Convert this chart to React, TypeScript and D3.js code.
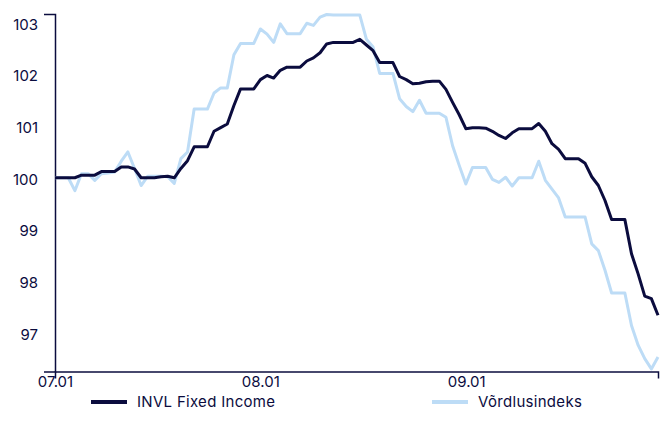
import React from "react";
import * as d3 from "d3";

// series values, one point roughly every 12 days
const invl = [
  100.0, 100.0, 100.0, 100.0, 100.05, 100.05, 100.05, 100.12, 100.12, 100.12,
  100.21, 100.21, 100.17, 100.0, 100.0, 100.0, 100.02, 100.03, 100.0, 100.18,
  100.33, 100.6, 100.6, 100.6, 100.9, 100.97, 101.04, 101.4, 101.72, 101.72,
  101.72, 101.9, 101.98, 101.93, 102.08, 102.14, 102.14, 102.14, 102.26, 102.32,
  102.42, 102.59, 102.62, 102.62, 102.62, 102.62, 102.68, 102.57, 102.46, 102.23,
  102.23, 102.23, 101.96, 101.9, 101.82, 101.83, 101.86, 101.87, 101.87, 101.71,
  101.46, 101.22, 100.95, 100.97, 100.97, 100.96, 100.9, 100.82, 100.76, 100.87,
  100.95, 100.95, 100.95, 101.05, 100.9, 100.66, 100.55, 100.37, 100.37, 100.37,
  100.28, 100.02, 99.85, 99.56, 99.19, 99.19, 99.19, 98.53, 98.14, 97.71,
  97.66, 97.34,
];

const benchmark = [
  100.0, 100.0, 100.0, 99.75, 100.08, 100.08, 99.95, 100.08, 100.09, 100.11,
  100.32, 100.5, 100.18, 99.85, 100.03, 100.03, 100.03, 100.02, 99.89, 100.37,
  100.5, 101.33, 101.33, 101.33, 101.64, 101.74, 101.74, 102.38, 102.6, 102.6,
  102.6, 102.88, 102.78, 102.62, 102.98, 102.79, 102.79, 102.79, 102.99, 102.95,
  103.11, 103.16, 103.15, 103.15, 103.15, 103.15, 103.15, 102.68, 102.53, 102.02,
  102.02, 102.02, 101.53, 101.38, 101.28, 101.5, 101.25, 101.25, 101.25, 101.17,
  100.62, 100.24, 99.88, 100.2, 100.2, 100.2, 99.97, 99.91, 100.01, 99.84,
  100.0, 100.0, 100.0, 100.32, 99.95, 99.78, 99.61, 99.24, 99.24, 99.24,
  99.24, 98.72, 98.59, 98.21, 97.77, 97.77, 97.77, 97.14, 96.76, 96.5,
  96.3, 96.53,
];

const startDate = new Date(2007, 0, 1);
const endDate = new Date(2009, 11, 8);
const dates = invl.map(
  (_, i) => new Date(+startDate + (i * (+endDate - +startDate)) / (invl.length - 1))
);

const xTicks = [new Date(2007, 0, 1), new Date(2008, 0, 1), new Date(2009, 0, 1)];
const yTicks = [97, 98, 99, 100, 101, 102, 103];
const legendLabels = ["INVL Fixed Income", "Võrdlusindeks"];

const navy = "#0b0c3e";
const lightBlue = "#bddcf6";
const font = "Inter, 'Noto Sans', sans-serif";

export default function App() {
  const ref = React.useRef<SVGSVGElement>(null);
  const width = 660;
  const height = 433;

  React.useEffect(() => {
    const marginLeft = 55;
    const marginRight = 2;
    const marginTop = 14;
    const axisY = 371.5;

    const x = d3
      .scaleTime()
      .domain([startDate, endDate])
      .range([marginLeft, width - marginRight]);
    const y = d3.scaleLinear().domain([96.25, 103.17]).range([axisY, marginTop]);

    const svg = d3.select(ref.current);
    svg.selectAll("*").remove();

    // y axis
    const gy = svg
      .append("g")
      .attr("transform", `translate(${marginLeft},0)`)
      .call(
        d3
          .axisLeft(y)
          .tickValues(yTicks)
          .tickSizeInner(0)
          .tickSizeOuter(11)
          .tickPadding(17)
          .tickFormat(d3.format("d"))
      );
    gy.select(".domain").attr("stroke", navy).attr("stroke-width", 1.5);
    gy.selectAll("text")
      .attr("fill", navy)
      .attr("dy", "0.42em")
      .style("font-family", font)
      .style("font-size", "15px");

    // x axis
    const gx = svg
      .append("g")
      .attr("transform", `translate(0,${axisY})`)
      .call(
        d3
          .axisBottom(x)
          .tickValues(xTicks)
          .tickSizeInner(0)
          .tickSizeOuter(7)
          .tickPadding(5)
          .tickFormat(d3.timeFormat("%y.%m") as any)
      );
    gx.select(".domain").attr("stroke", navy).attr("stroke-width", 1.5);
    gx.selectAll("text")
      .attr("fill", navy)
      .style("font-family", font)
      .style("font-size", "15px");

    const line = d3
      .line<number>()
      .x((_, i) => x(dates[i]))
      .y((d) => y(d))
      .curve(d3.curveLinear);

    svg
      .append("path")
      .datum(benchmark)
      .attr("fill", "none")
      .attr("stroke", lightBlue)
      .attr("stroke-width", 3)
      .attr("stroke-linejoin", "round")
      .attr("d", line);

    svg
      .append("path")
      .datum(invl)
      .attr("fill", "none")
      .attr("stroke", navy)
      .attr("stroke-width", 3)
      .attr("stroke-linejoin", "round")
      .attr("d", line);

    // legend
    const legend = svg
      .append("g")
      .selectAll("g")
      .data(legendLabels)
      .join("g")
      .attr("transform", (_, i) => `translate(${i === 0 ? 91 : 432},402)`);
    legend
      .append("line")
      .attr("x1", 0)
      .attr("x2", 36)
      .attr("stroke", (_, i) => (i === 0 ? navy : lightBlue))
      .attr("stroke-width", 4);
    legend
      .append("text")
      .attr("x", 46)
      .attr("dy", "0.36em")
      .attr("fill", navy)
      .style("font-family", font)
      .style("font-size", "15px")
      .style("letter-spacing", "0.3px")
      .text((d) => d);
  }, []);

  return (
    <svg
      ref={ref}
      width={width}
      height={height}
      style={{ position: "absolute", left: 0, top: 0, background: "#fff" }}
    />
  );
}
